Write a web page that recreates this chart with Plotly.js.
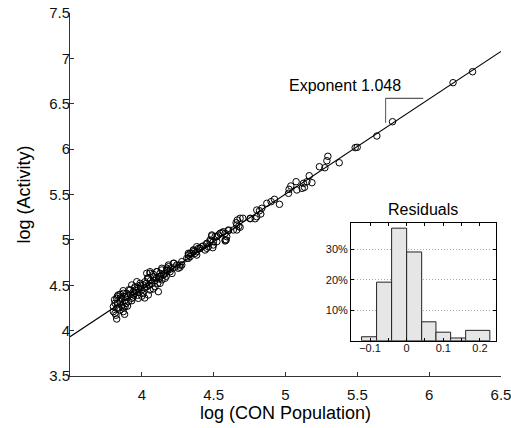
<!DOCTYPE html>
<html>
<head>
<meta charset="utf-8">
<script src="https://cdn.plot.ly/plotly-3.0.1.min.js"></script>
<style>html,body{margin:0;padding:0;background:#fff;}#chart{width:511px;height:428px;}</style>
</head>
<body>
<div id="chart"></div>
<script>
// ---- data ----
const logPopulation = [
  4.580,4.522,4.498,4.452,4.405,4.382,4.359,4.324,4.313,4.336,4.382,4.278,4.266,4.243,4.224,4.185,4.174,4.139,4.127,4.104,
  4.150,4.115,4.080,4.057,4.045,4.022,4.011,4.034,3.988,3.976,3.965,3.953,3.941,3.930,3.918,3.976,4.092,4.127,4.162,4.197,
  4.254,4.057,4.045,4.115,3.895,3.883,3.871,3.860,3.848,3.836,3.825,3.813,3.802,3.825,3.848,3.813,3.825,3.802,3.883,3.906,
  3.930,3.871,3.941,
  3.83,3.85,3.86,3.88,3.89,3.90,3.92,3.93,3.95,3.96,3.98,3.99,4.00,4.01,4.02,4.03,4.05,4.06,4.07,4.08,
  4.09,4.10,4.11,4.12,4.13,4.14,4.16,4.17,4.18,4.20,4.21,4.23,3.82,3.84,3.87,3.90,3.94,3.97,4.00,3.81,
  3.83,3.85,3.87,3.91,3.95,3.99,4.04,4.08,4.02,3.88,
  4.800,4.754,4.684,4.661,4.637,4.603,4.568,4.545,4.580,4.522,4.487,4.475,4.452,4.417,4.394,4.359,4.371,4.336,4.324,4.278,
  4.266,4.220,4.185,4.174,4.139,4.104,4.057,4.034,
  5.295,5.288,5.236,5.274,5.374,5.165,5.149,5.184,5.125,5.132,5.116,5.074,5.037,5.025,5.021,5.079,4.923,4.900,4.958,4.870,
  4.835,4.819,4.828,4.800,4.789,4.754,4.703,4.665,4.656,4.684,4.661,4.675,4.603,4.580,4.591,4.557,4.533,4.510,4.487,4.475,
  4.498,4.452,4.463,4.428,4.440,4.405,4.382,4.359,4.348,4.324,4.494,4.587,
  5.485,5.499,5.636,5.745,6.166,6.302
];
const logActivity = [
  4.988,4.980,4.944,4.955,4.907,4.925,4.870,4.852,4.797,4.815,4.833,4.723,4.698,4.723,4.742,4.723,4.687,4.668,4.632,4.649,
  4.613,4.594,4.594,4.632,4.577,4.539,4.503,4.484,4.521,4.466,4.539,4.484,4.429,4.503,4.448,4.356,4.484,4.521,4.577,4.649,
  4.687,4.448,4.393,4.429,4.411,4.374,4.411,4.356,4.319,4.393,4.356,4.301,4.264,4.246,4.227,4.191,4.128,4.209,4.264,4.319,
  4.356,4.209,4.393,
  4.30,4.36,4.28,4.33,4.30,4.37,4.40,4.33,4.41,4.44,4.42,4.47,4.45,4.41,4.47,4.52,4.50,4.55,4.52,4.46,
  4.55,4.58,4.52,4.57,4.60,4.56,4.63,4.60,4.66,4.68,4.63,4.70,4.17,4.25,4.25,4.27,4.37,4.39,4.38,4.34,
  4.38,4.40,4.44,4.45,4.47,4.50,4.58,4.62,4.36,4.18,
  5.329,5.238,5.238,5.164,5.109,5.109,5.090,5.072,4.999,5.035,5.054,4.980,4.907,4.925,4.907,4.888,4.852,4.852,4.797,4.760,
  4.723,4.742,4.704,4.668,4.687,4.649,4.649,4.632,
  5.921,5.872,5.806,5.795,5.850,5.707,5.641,5.630,5.623,5.579,5.568,5.641,5.594,5.557,5.513,5.550,5.447,5.421,5.392,5.403,
  5.348,5.321,5.285,5.255,5.233,5.233,5.238,5.219,5.189,5.139,5.109,5.150,5.101,5.072,5.035,5.079,5.054,5.035,5.043,4.999,
  4.980,4.962,4.925,4.933,4.888,4.907,4.870,4.888,4.852,4.833,4.914,4.999,
  6.016,6.020,6.145,6.302,6.732,6.853
];
const fitExponent = 1.048;
const fitIntercept = 0.265;
const fitLabel = "Exponent 1.048";

const residualBinEdges = [-0.123, -0.082, -0.041, 0.0, 0.041, 0.080, 0.120, 0.161, 0.227];
const residualPercent = [1.3, 19.2, 36.9, 29.1, 6.2, 2.8, 0.9, 3.4];
const residualTickVals = [-0.1, -0.05, 0, 0.05, 0.1, 0.15, 0.2];
const residualTickText = ["\u22120.1", "", "0", "", "0.1", "", "0.2"];
const percentTickVals = [10, 20, 30];
const percentTickText = ["10%", "20%", "30%"];

const xTickVals = [4, 4.5, 5, 5.5, 6, 6.5];
const xRange = [3.5, 6.5];
const yRange = [3.5, 7.5];

// ---- derived ----
const binCenters = residualBinEdges.slice(0, -1).map((e, i) => (e + residualBinEdges[i + 1]) / 2);
const binWidths = residualBinEdges.slice(0, -1).map((e, i) => residualBinEdges[i + 1] - e);
const fitX = xRange.slice();
const fitY = fitX.map(x => fitExponent * x + fitIntercept);

const FONT = "Liberation Sans, Arial, Helvetica, sans-serif";

const traces = [
  {
    x: fitX, y: fitY, type: "scatter", mode: "lines",
    line: { color: "#000", width: 1.2 }, hoverinfo: "skip", xaxis: "x", yaxis: "y3"
  },
  {
    x: logPopulation, y: logActivity, type: "scatter", mode: "markers",
    marker: { symbol: "circle-open", size: 6.5, color: "#000", line: { width: 1, color: "#000" } },
    xaxis: "x", yaxis: "y"
  },
  {
    x: binCenters, y: residualPercent, width: binWidths, type: "bar",
    marker: { color: "#e6e6e6", line: { color: "#222", width: 1 } },
    xaxis: "x2", yaxis: "y2"
  }
];

const layout = {
  width: 511, height: 428,
  margin: { l: 70, r: 10, t: 13, b: 52 },
  paper_bgcolor: "#fff", plot_bgcolor: "#fff",
  showlegend: false,
  font: { family: FONT, color: "#000" },
  xaxis: {
    range: xRange, tickvals: xTickVals, ticks: "inside", ticklen: 4, tickcolor: "#333",
    showline: true, linecolor: "#333", linewidth: 1, mirror: false,
    showgrid: false, zeroline: false, ticklabelstandoff: 5, ticklabeloverflow: "allow",
    tickfont: { size: 15, family: FONT, color: "#111" },
    title: { text: "log (CON Population)", font: { size: 18, family: FONT }, standoff: 4 },
    automargin: false
  },
  yaxis: {
    range: yRange, dtick: 0.5, ticks: "inside", ticklen: 4, tickcolor: "#333",
    showline: true, linecolor: "#333", linewidth: 1, mirror: false,
    showgrid: false, zeroline: false, showticklabels: false,
    automargin: false
  },
  yaxis3: {
    overlaying: "y", anchor: "free", position: 0, side: "left",
    range: yRange, dtick: 0.5, ticks: "", showline: false,
    showgrid: false, zeroline: false,
    tickfont: { size: 15, family: FONT, color: "#111" },
    title: { text: "log (Activity)", font: { size: 18, family: FONT }, standoff: 12 },
    automargin: false
  },
  xaxis2: {
    domain: [0.652, 0.988], anchor: "y2",
    range: [-0.1518, 0.2433], tickvals: residualTickVals, ticktext: residualTickText,
    ticks: "inside", ticklen: 3, tickcolor: "#000",
    showline: true, linecolor: "#000", linewidth: 1, mirror: "allticks",
    showgrid: false, zeroline: false, ticklabelstandoff: -3,
    tickfont: { size: 11, family: FONT, color: "#111" }
  },
  yaxis2: {
    domain: [0.0972, 0.4207], anchor: "x2",
    range: [0, 38.5], tickvals: percentTickVals, ticktext: percentTickText,
    ticks: "inside", ticklen: 3, tickcolor: "#000",
    showline: true, linecolor: "#000", linewidth: 1, mirror: "allticks",
    showgrid: true, gridcolor: "#aaa", griddash: "1px,2px", gridwidth: 1, zeroline: false,
    tickfont: { size: 11, family: FONT, color: "#111" }
  },
  annotations: [
    {
      text: fitLabel, x: 5.414, y: 6.696, xref: "x", yref: "y",
      showarrow: false, xanchor: "center", yanchor: "middle",
      font: { size: 16, family: FONT, color: "#000" }
    },
    {
      text: "Residuals", xref: "x2 domain", yref: "y2 domain", x: 0.5, y: 1.0,
      xanchor: "center", yanchor: "bottom", yshift: 3, showarrow: false,
      font: { size: 16, family: FONT, color: "#000" }
    }
  ],
  shapes: [
    { type: "line", xref: "x", yref: "y", x0: 5.697, x1: 5.697, y0: 6.29, y1: 6.56, line: { color: "#555", width: 1 } },
    { type: "line", xref: "x", yref: "y", x0: 5.697, x1: 5.959, y0: 6.56, y1: 6.56, line: { color: "#333", width: 1 } }
  ]
};

Plotly.newPlot("chart", traces, layout, { displayModeBar: false, staticPlot: true });
</script>
</body>
</html>
